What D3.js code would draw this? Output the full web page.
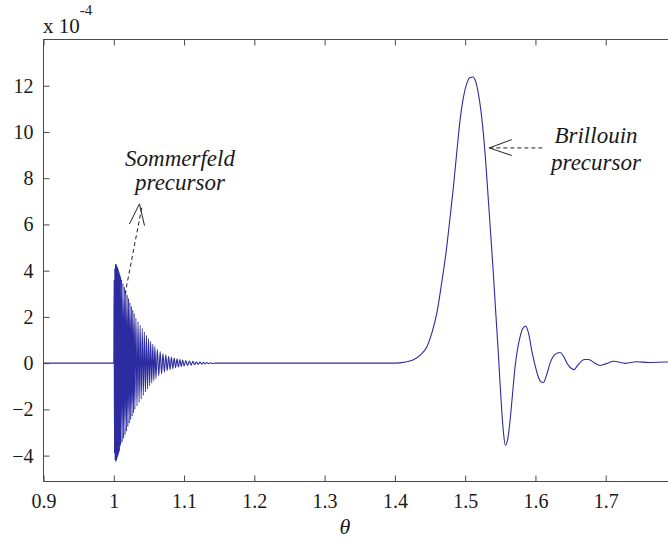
<!DOCTYPE html>
<html>
<head>
<meta charset="utf-8">
<script src="https://cdn.jsdelivr.net/npm/d3@7"></script>
<style>
  body { margin: 0; background: #fff; }
  svg { display: block; }
  .tick-label { font-family: "Times New Roman", Times, "Liberation Serif", "DejaVu Serif", serif; font-size: 20px; fill: #1a1a1a; }
  .note { font-family: "Times New Roman", Times, "Liberation Serif", "DejaVu Serif", serif; font-size: 23px; font-style: italic; fill: #1a1a1a; }
</style>
</head>
<body>
<div id="chart"></div>
<script>
//DATA (values in units of 1e-4)
var xTicks = [0.9, 1.0, 1.1, 1.2, 1.3, 1.4, 1.5, 1.6, 1.7];
var yTicks = [-4, -2, 0, 2, 4, 6, 8, 10, 12];

//Quiet part before the Sommerfeld precursor
var leadTheta = [0.9, 1.0];
var leadValue = [0, 0];

//Sommerfeld precursor: successive extrema of the fast oscillation
var sommerfeldTheta = [
  1.0005, 1.0010, 1.0015, 1.0020, 1.0025, 1.0030, 1.0035, 1.0040, 1.0045, 1.0050,
  1.0055, 1.0060, 1.0065, 1.0070, 1.0075, 1.0080, 1.0085, 1.0090, 1.0095, 1.0100,
  1.011, 1.012, 1.013, 1.014, 1.015, 1.016, 1.017, 1.018, 1.019, 1.020,
  1.021, 1.022, 1.023, 1.024, 1.025, 1.026, 1.027, 1.028, 1.029, 1.030,
  1.0315, 1.0330, 1.0345, 1.0360, 1.0375, 1.0390, 1.0405, 1.0420, 1.0435, 1.0450,
  1.0465, 1.0480, 1.0495, 1.0510, 1.0525, 1.0540, 1.0555, 1.0570, 1.0585, 1.0600,
  1.062, 1.064, 1.066, 1.068, 1.070, 1.072, 1.074, 1.076, 1.078, 1.080,
  1.082, 1.084, 1.086, 1.088, 1.090, 1.092, 1.094, 1.096, 1.098, 1.100,
  1.1025, 1.1050, 1.1075, 1.1100, 1.1125, 1.1150, 1.1175, 1.1200,
  1.1225, 1.1250, 1.1275, 1.1300, 1.1325, 1.1350, 1.1375, 1.1400
];
var sommerfeldValue = [
  3.6, -3.9, 4.1, -4.2, 4.3, -4.27, 4.28, -4.2, 4.2, -4.1,
  4.15, -4.0, 4.05, -3.9, 3.95, -3.8, 3.85, -3.6, 3.75, -3.5,
  3.62, -3.4, 3.45, -3.25, 3.3, -3.1, 3.15, -2.95, 2.95, -2.75,
  2.8, -2.6, 2.62, -2.45, 2.45, -2.3, 2.3, -2.15, 2.15, -2.0,
  1.95, -1.85, 1.8, -1.7, 1.65, -1.55, 1.5, -1.4, 1.35, -1.25,
  1.2, -1.12, 1.06, -0.98, 0.93, -0.86, 0.82, -0.76, 0.72, -0.66,
  0.60, -0.55, 0.50, -0.46, 0.42, -0.39, 0.36, -0.33, 0.30, -0.28,
  0.26, -0.24, 0.22, -0.20, 0.19, -0.17, 0.16, -0.15, 0.13, -0.12,
  0.11, -0.10, 0.09, -0.085, 0.075, -0.07, 0.06, -0.055,
  0.05, -0.045, 0.04, -0.035, 0.03, -0.025, 0.02, -0.015
];

//Brillouin precursor
var brillouinTheta = [
  1.145, 1.38, 1.40, 1.415, 1.4265, 1.436, 1.4454, 1.4525, 1.4596, 1.4667,
  1.4738, 1.4785, 1.4832, 1.488, 1.4927, 1.4975, 1.5023, 1.5065, 1.5108, 1.5148,
  1.5188, 1.5225, 1.5259, 1.5295, 1.533, 1.5365, 1.5401, 1.5437, 1.5472, 1.5497,
  1.552, 1.5545, 1.5572, 1.5605, 1.5639, 1.5675, 1.571, 1.5745, 1.5781, 1.582,
  1.5862, 1.5905, 1.5947, 1.5995, 1.6041, 1.6075, 1.6112, 1.616, 1.6208, 1.628,
  1.635, 1.64, 1.6445, 1.65, 1.6549, 1.66, 1.6658, 1.6705, 1.6758, 1.683,
  1.6924, 1.701, 1.7113, 1.728, 1.744, 1.761, 1.785, 1.80
];
var brillouinValue = [
  0, 0, 0, 0.05, 0.15, 0.35, 0.7, 1.3, 2.15, 3.5,
  5.03, 6.3, 7.6, 9.1, 10.5, 11.5, 12.1, 12.35, 12.38, 12.2,
  11.66, 10.9, 9.93, 8.6, 7.05, 5.5, 3.88, 2.1, 0.42, -0.9,
  -2.03, -3.0, -3.55, -3.3, -2.48, -1.3, -0.16, 0.6, 1.14, 1.5,
  1.6, 1.25, 0.55, -0.1, -0.6, -0.8, -0.84, -0.5, 0, 0.38,
  0.46, 0.3, 0.02, -0.2, -0.28, -0.1, 0.1, 0.16, 0.16, 0.03,
  -0.1, -0.02, 0.08, -0.01, 0.06, 0.03, 0.05, 0.02
];

//SVG AND MARGINS
var svgWidth = 668;
var svgHeight = 542;
var margin = { top: 39.5, bottom: 60.5, left: 43.5, right: -8 };
var chartWidth = svgWidth - margin.left - margin.right;
var chartHeight = svgHeight - margin.top - margin.bottom;

var svg = d3.select("#chart")
  .append("svg")
  .attr("width", svgWidth)
  .attr("height", svgHeight);

var chartGroup = svg.append("g")
  .attr("transform", `translate(${margin.left}, ${margin.top})`);

//SCALES
var xScale = d3.scaleLinear().domain([0.9, 1.8]).range([0, chartWidth]);
var yScale = d3.scaleLinear().domain([-5.12, 14]).range([chartHeight, 0]);

//SIGNAL (joined from the three pieces)
var signal = [];
leadTheta.forEach(function(t, i) { signal.push([t, leadValue[i]]); });
sommerfeldTheta.forEach(function(t, i) { signal.push([t, sommerfeldValue[i]]); });
brillouinTheta.forEach(function(t, i) { signal.push([t, brillouinValue[i]]); });

var line = d3.line()
  .curve(d3.curveMonotoneX)
  .x(d => xScale(d[0]))
  .y(d => yScale(d[1]));

chartGroup.append("path")
  .datum(signal)
  .attr("d", line)
  .attr("fill", "none")
  .attr("stroke", "#2c2ca0")
  .attr("stroke-width", 1.1);

//AXES (matlab style box with inward ticks)
var axisColor = "#4a4a4a";
function styleAxis(g) {
  g.attr("font-family", null).attr("font-size", null);
  g.select(".domain").remove();
  g.selectAll(".tick line").attr("stroke", axisColor);
  g.selectAll(".tick text").attr("class", "tick-label").attr("fill", null);
}

chartGroup.append("g")
  .attr("transform", `translate(0, ${chartHeight})`)
  .call(d3.axisBottom(xScale).tickValues(xTicks).tickSize(-6).tickPadding(12).tickFormat(d3.format("")))
  .call(styleAxis);

chartGroup.append("g")
  .call(d3.axisTop(xScale).tickValues(xTicks).tickSize(-6).tickFormat(""))
  .call(styleAxis);

chartGroup.append("g")
  .call(d3.axisLeft(yScale).tickValues(yTicks).tickSize(-6).tickPadding(10))
  .call(styleAxis);

chartGroup.append("g")
  .attr("transform", `translate(${chartWidth}, 0)`)
  .call(d3.axisRight(yScale).tickValues(yTicks).tickSize(-6).tickFormat(""))
  .call(styleAxis);

chartGroup.append("rect")
  .attr("width", chartWidth)
  .attr("height", chartHeight)
  .attr("fill", "none")
  .attr("stroke", axisColor)
  .attr("stroke-width", 1);

//EXPONENT LABEL
var expo = svg.append("text")
  .attr("x", 43)
  .attr("y", 33)
  .attr("class", "tick-label")
  .style("font-size", "21px");
expo.append("tspan").text("x 10");
expo.append("tspan").attr("dy", -18).style("font-size", "15px").text("-4");

//X AXIS LABEL
svg.append("text")
  .attr("x", 345)
  .attr("y", 534)
  .attr("text-anchor", "middle")
  .attr("class", "note")
  .style("font-size", "22px")
  .text("θ");

//ANNOTATIONS
function pt(p) { return [xScale(p[0]), yScale(p[1])]; }

function drawArrow(tip, endA, endB, dashFrom, dashTo) {
  var g = chartGroup.append("g").attr("stroke", "#222").attr("fill", "none");
  g.append("path")
    .attr("d", d3.line()([pt(endA), pt(tip), pt(endB)]))
    .attr("stroke-width", 1);
  g.append("path")
    .attr("d", d3.line()([pt(dashFrom), pt(dashTo)]))
    .attr("stroke-width", 1)
    .attr("stroke-dasharray", "4,3");
}

drawArrow([1.0366, 6.89], [1.0223, 6.02], [1.0437, 5.95], [1.0397, 6.72], [1.0162, 3.01]);
drawArrow([1.5344, 9.31], [1.5663, 9.67], [1.5663, 8.98], [1.5344, 9.31], [1.6137, 9.31]);

svg.append("text").attr("class", "note").attr("x", 180).attr("y", 166)
  .attr("text-anchor", "middle").text("Sommerfeld");
svg.append("text").attr("class", "note").attr("x", 180).attr("y", 190)
  .attr("text-anchor", "middle").text("precursor");
svg.append("text").attr("class", "note").attr("x", 596).attr("y", 143)
  .attr("text-anchor", "middle").text("Brillouin");
svg.append("text").attr("class", "note").attr("x", 596).attr("y", 170)
  .attr("text-anchor", "middle").text("precursor");
</script>
</body>
</html>
